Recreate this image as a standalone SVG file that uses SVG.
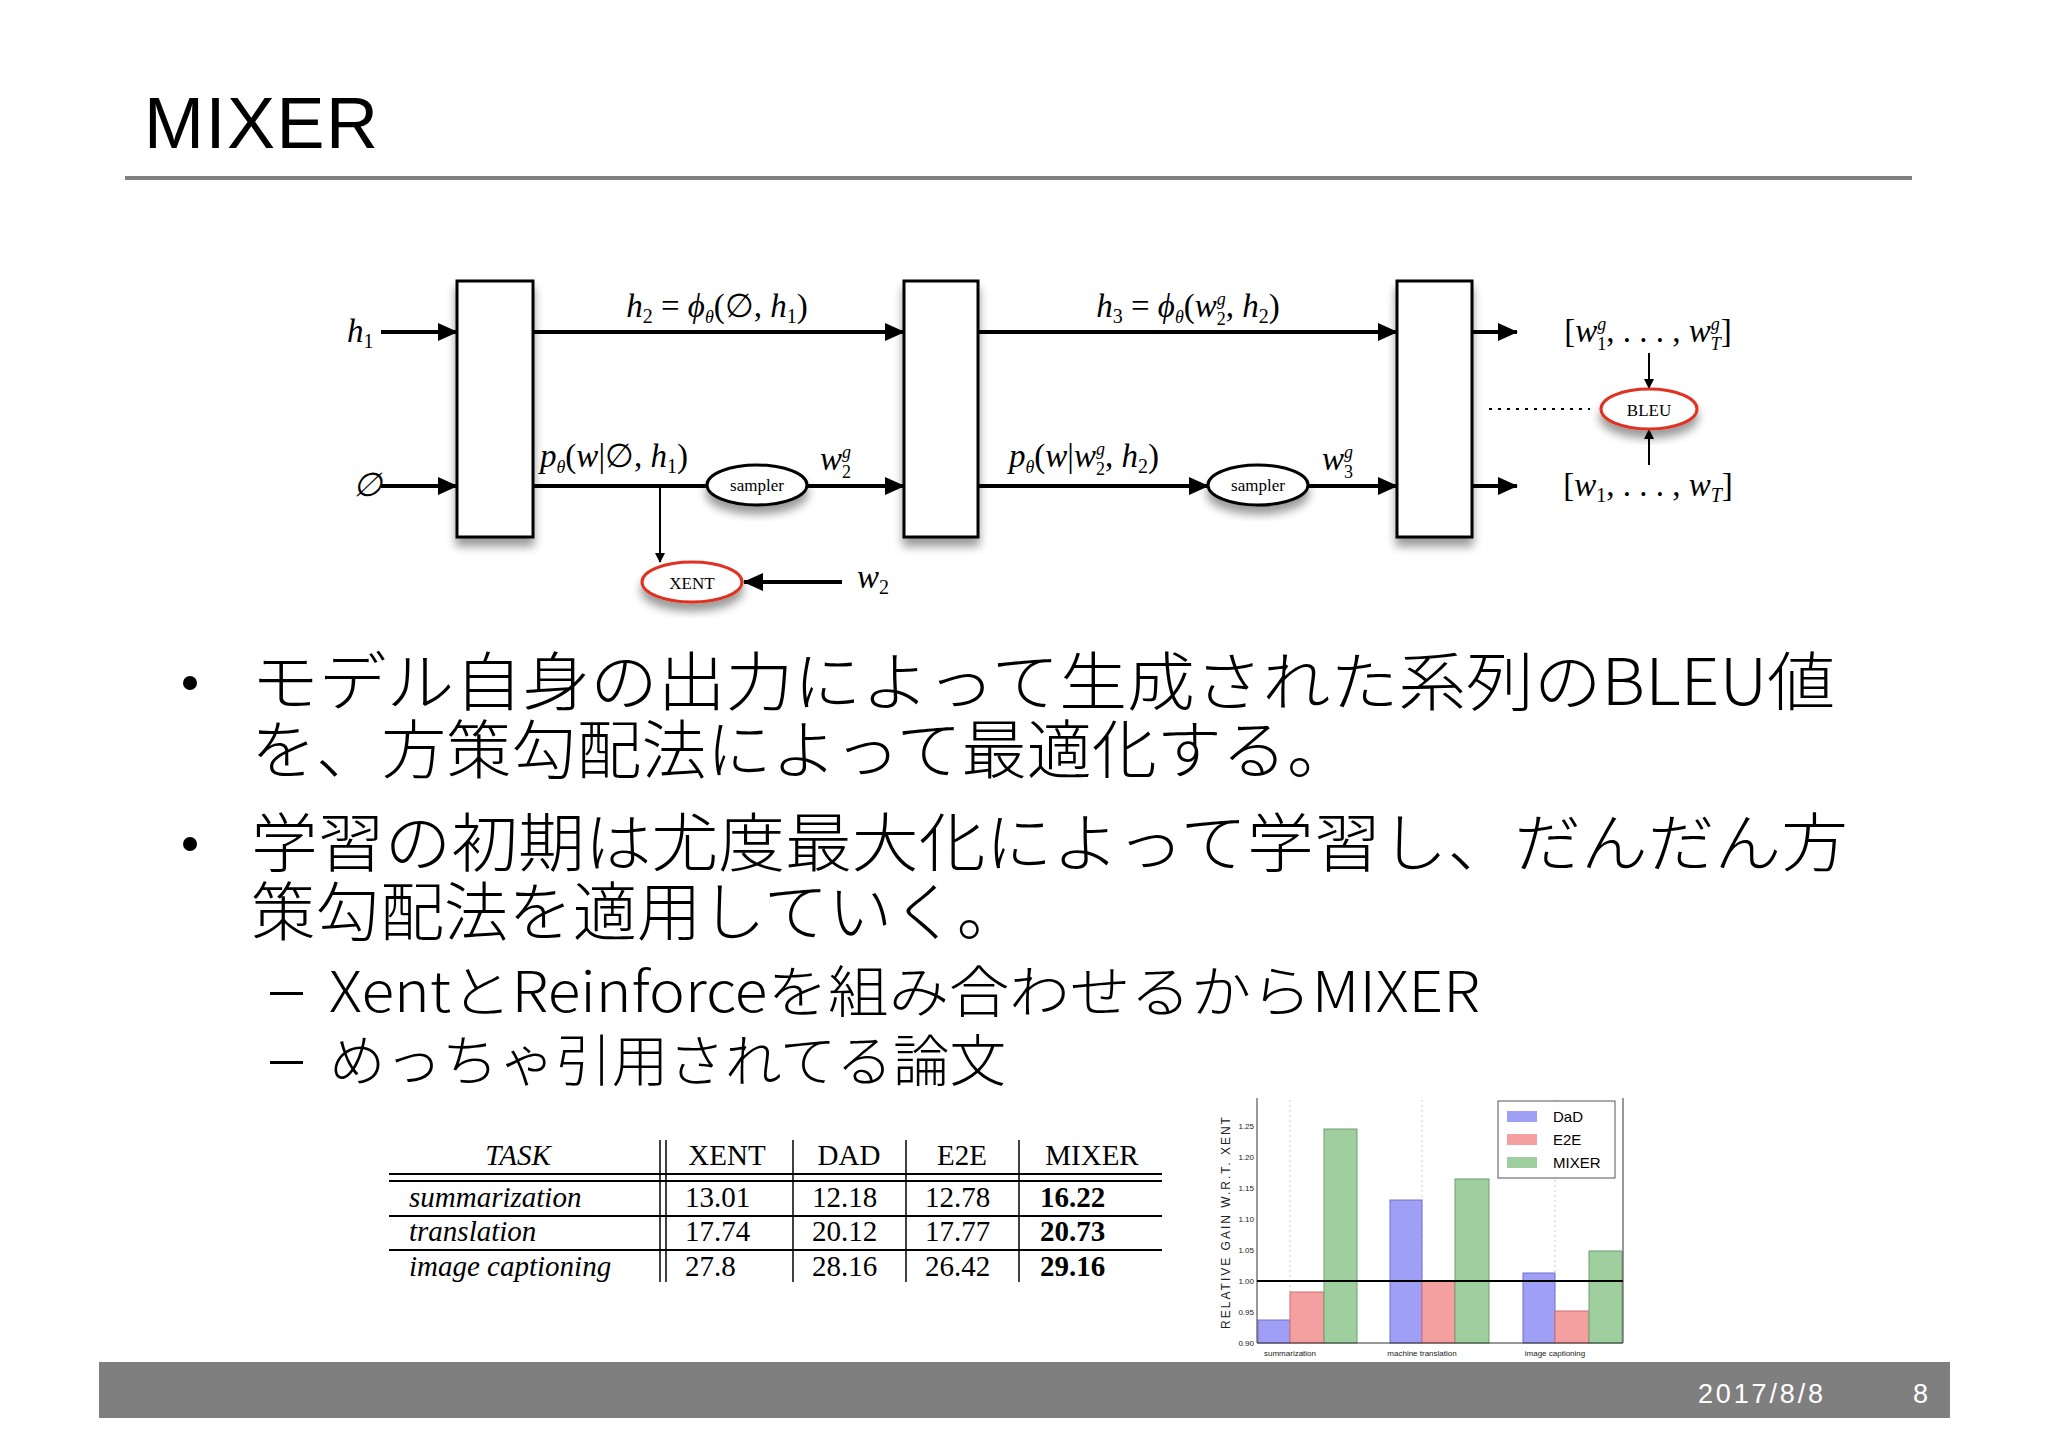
<svg xmlns="http://www.w3.org/2000/svg" width="2048" height="1448" viewBox="0 0 2048 1448">
<defs>
<marker id="ah" markerWidth="10" markerHeight="10" refX="9" refY="5" orient="auto" markerUnits="userSpaceOnUse"><path d="M0,0 L10,5 L0,10 Z" fill="#000"/></marker>
<marker id="ahb" markerWidth="20" markerHeight="18" refX="19" refY="9" orient="auto" markerUnits="userSpaceOnUse"><path d="M0,0 L20,9 L0,18 Z" fill="#000"/></marker>
<filter id="sh" x="-20%" y="-20%" width="140%" height="160%"><feGaussianBlur in="SourceAlpha" stdDeviation="5"/><feOffset dy="8"/><feComponentTransfer><feFuncA type="linear" slope="0.4"/></feComponentTransfer><feMerge><feMergeNode/><feMergeNode in="SourceGraphic"/></feMerge></filter>
</defs>
<style>
.jp{font-family:"Noto Sans CJK JP","Noto Sans",sans-serif;fill:#000;font-weight:300}
.m{font-family:"Liberation Serif",serif;font-style:italic;font-size:33px;fill:#000}
.box{fill:#fff;stroke:#000;stroke-width:3}
.ln{stroke:#000;stroke-width:4;fill:none}
.ell{fill:#fff;stroke:#000;stroke-width:3}
.red{fill:#fff;stroke:#e03020;stroke-width:3}
.sm{font-family:"Liberation Serif",serif;font-size:17px;text-anchor:middle}
.t{font-family:"Liberation Serif",serif;font-size:29px;fill:#000}
.ti{font-family:"Liberation Serif",serif;font-style:italic;font-size:29px;fill:#000}
.tl{stroke:#000;stroke-width:2}
.ax{font-family:"Liberation Sans",sans-serif;font-size:8px;fill:#222}
</style>
<rect width="2048" height="1448" fill="#fff"/>
<text x="144" y="148" font-family="Liberation Sans,sans-serif" font-size="72" fill="#000" textLength="234">MIXER</text>
<rect x="125" y="176" width="1787" height="4" fill="#808080"/>

<g id="connectors">
<line class="ln" x1="381" y1="332" x2="457" y2="332" marker-end="url(#ahb)"/>
<line class="ln" x1="381" y1="486" x2="457" y2="486" marker-end="url(#ahb)"/>
<line class="ln" x1="533" y1="332" x2="904" y2="332" marker-end="url(#ahb)"/>
<line class="ln" x1="978" y1="332" x2="1397" y2="332" marker-end="url(#ahb)"/>
<line class="ln" x1="533" y1="486" x2="707" y2="486"/>
<line class="ln" x1="807" y1="486" x2="904" y2="486" marker-end="url(#ahb)"/>
<line class="ln" x1="978" y1="486" x2="1208" y2="486" marker-end="url(#ahb)"/>
<line class="ln" x1="1308" y1="486" x2="1397" y2="486" marker-end="url(#ahb)"/>
<line class="ln" x1="1472" y1="332" x2="1517" y2="332" marker-end="url(#ahb)"/>
<line class="ln" x1="1472" y1="486" x2="1517" y2="486" marker-end="url(#ahb)"/>
<line x1="660" y1="486" x2="660" y2="562" stroke="#000" stroke-width="2" marker-end="url(#ah)"/>
<line class="ln" x1="842" y1="582" x2="744" y2="582" marker-end="url(#ahb)"/>
<line x1="1649" y1="353" x2="1649" y2="388" stroke="#000" stroke-width="2" marker-end="url(#ah)"/>
<line x1="1649" y1="465" x2="1649" y2="430" stroke="#000" stroke-width="2" marker-end="url(#ah)"/>
<line x1="1489" y1="409" x2="1590" y2="409" stroke="#000" stroke-width="2" stroke-dasharray="3,6"/>
</g>

<g id="box1"><rect class="box" x="457" y="281" width="76" height="256" filter="url(#sh)"/></g>
<g id="box2"><rect class="box" x="904" y="281" width="74" height="256" filter="url(#sh)"/></g>
<g id="box3"><rect class="box" x="1397" y="281" width="75" height="256" filter="url(#sh)"/></g>
<g id="sampler1"><ellipse class="ell" cx="757" cy="485" rx="50" ry="20" filter="url(#sh)"/><text class="sm" x="757" y="491">sampler</text></g>
<g id="sampler2"><ellipse class="ell" cx="1258" cy="485" rx="50" ry="20" filter="url(#sh)"/><text class="sm" x="1258" y="491">sampler</text></g>
<g id="xent"><ellipse class="red" cx="692" cy="582" rx="50" ry="20" filter="url(#sh)"/><text class="sm" x="692" y="589">XENT</text></g>
<g id="bleu"><ellipse class="red" cx="1649" cy="409" rx="48" ry="20" filter="url(#sh)"/><text class="sm" x="1649" y="416">BLEU</text></g>

<g id="labels">
<text class="m" x="347" y="342">h<tspan font-size="20" dy="6" font-style="normal">1</tspan></text>
<text class="m" x="353" y="496" font-style="normal">∅</text>
<text class="m" x="717" y="317" text-anchor="middle">h<tspan font-size="20" dy="6" font-style="normal">2</tspan><tspan dy="-6" font-style="normal"> = </tspan>ϕ<tspan font-size="18" dy="6">θ</tspan><tspan dy="-6" font-style="normal">(∅, </tspan>h<tspan font-size="20" dy="6" font-style="normal">1</tspan><tspan dy="-6" font-style="normal">)</tspan></text>
<text class="m" x="1188" y="317" text-anchor="middle">h<tspan font-size="20" dy="6" font-style="normal">3</tspan><tspan dy="-6" font-style="normal"> = </tspan>ϕ<tspan font-size="18" dy="6">θ</tspan><tspan dy="-6" font-style="normal">(</tspan>w<tspan font-size="18" dy="-12">g</tspan><tspan font-size="18" dx="-9" dy="20" font-style="normal">2</tspan><tspan dy="-8" font-style="normal">, </tspan>h<tspan font-size="20" dy="6" font-style="normal">2</tspan><tspan dy="-6" font-style="normal">)</tspan></text>
<text class="m" x="614" y="467" text-anchor="middle">p<tspan font-size="18" dy="6">θ</tspan><tspan dy="-6" font-style="normal">(</tspan>w<tspan font-style="normal">|∅, </tspan>h<tspan font-size="20" dy="6" font-style="normal">1</tspan><tspan dy="-6" font-style="normal">)</tspan></text>
<text class="m" x="1084" y="467" text-anchor="middle">p<tspan font-size="18" dy="6">θ</tspan><tspan dy="-6" font-style="normal">(</tspan>w<tspan font-style="normal">|</tspan>w<tspan font-size="18" dy="-12">g</tspan><tspan font-size="18" dx="-9" dy="20" font-style="normal">2</tspan><tspan dy="-8" font-style="normal">, </tspan>h<tspan font-size="20" dy="6" font-style="normal">2</tspan><tspan dy="-6" font-style="normal">)</tspan></text>
<text class="m" x="820" y="470">w<tspan font-size="18" dy="-12">g</tspan><tspan font-size="18" dx="-9" dy="20" font-style="normal">2</tspan></text>
<text class="m" x="1322" y="470">w<tspan font-size="18" dy="-12">g</tspan><tspan font-size="18" dx="-9" dy="20" font-style="normal">3</tspan></text>
<text class="m" x="857" y="588">w<tspan font-size="20" dy="6" font-style="normal">2</tspan></text>
<text class="m" x="1648" y="342" text-anchor="middle"><tspan font-style="normal">[</tspan>w<tspan font-size="18" dy="-12">g</tspan><tspan font-size="18" dx="-9" dy="20" font-style="normal">1</tspan><tspan dy="-8" font-style="normal">, . . . , </tspan>w<tspan font-size="18" dy="-12">g</tspan><tspan font-size="18" dx="-9" dy="20">T</tspan><tspan dy="-8" font-style="normal">]</tspan></text>
<text class="m" x="1648" y="496" text-anchor="middle"><tspan font-style="normal">[</tspan>w<tspan font-size="20" dy="6" font-style="normal">1</tspan><tspan dy="-6" font-style="normal">, . . . , </tspan>w<tspan font-size="20" dy="6">T</tspan><tspan dy="-6" font-style="normal">]</tspan></text>
</g>

<g id="bullets" class="jp">
<circle cx="190" cy="683" r="7" fill="#000"/>
<text x="251" y="705" font-size="64" textLength="1584" lengthAdjust="spacingAndGlyphs">モデル自身の出力によって生成された系列のBLEU値</text>
<text x="251" y="773" font-size="64" textLength="1101" lengthAdjust="spacingAndGlyphs">を、方策勾配法によって最適化する。</text>
<circle cx="190" cy="844" r="7" fill="#000"/>
<text x="251" y="866" font-size="64" textLength="1597" lengthAdjust="spacingAndGlyphs">学習の初期は尤度最大化によって学習し、だんだん方</text>
<text x="251" y="935" font-size="64" textLength="770" lengthAdjust="spacingAndGlyphs">策勾配法を適用していく。</text>
<rect x="270" y="992" width="33" height="3" fill="#000"/>
<text x="329" y="1012" font-size="56" textLength="1151" lengthAdjust="spacingAndGlyphs">XentとReinforceを組み合わせるからMIXER</text>
<rect x="270" y="1061" width="33" height="3" fill="#000"/>
<text x="329" y="1081" font-size="56" textLength="677" lengthAdjust="spacingAndGlyphs">めっちゃ引用されてる論文</text>
</g>

<g id="table">
<text class="ti" x="518" y="1165" text-anchor="middle">TASK</text>
<text class="t" x="727" y="1165" text-anchor="middle">XENT</text>
<text class="t" x="849" y="1165" text-anchor="middle">DAD</text>
<text class="t" x="962" y="1165" text-anchor="middle">E2E</text>
<text class="t" x="1092" y="1165" text-anchor="middle">MIXER</text>
<line class="tl" x1="389" y1="1174" x2="1162" y2="1174"/>
<line class="tl" x1="389" y1="1181" x2="1162" y2="1181"/>
<line class="tl" x1="389" y1="1216" x2="1162" y2="1216"/>
<line class="tl" x1="389" y1="1250" x2="1162" y2="1250"/>
<line x1="660" y1="1140" x2="660" y2="1282" stroke="#000" stroke-width="1.5"/>
<line x1="666" y1="1140" x2="666" y2="1282" stroke="#000" stroke-width="1.5"/>
<line x1="793" y1="1140" x2="793" y2="1282" stroke="#000" stroke-width="1.5"/>
<line x1="906" y1="1140" x2="906" y2="1282" stroke="#000" stroke-width="1.5"/>
<line x1="1019" y1="1140" x2="1019" y2="1282" stroke="#000" stroke-width="1.5"/>
<text class="ti" x="409" y="1207">summarization</text>
<text class="ti" x="409" y="1241">translation</text>
<text class="ti" x="409" y="1276">image captioning</text>
<g class="t"><text x="685" y="1207">13.01</text><text x="812" y="1207">12.18</text><text x="925" y="1207">12.78</text><text x="1040" y="1207" font-weight="bold">16.22</text>
<text x="685" y="1241">17.74</text><text x="812" y="1241">20.12</text><text x="925" y="1241">17.77</text><text x="1040" y="1241" font-weight="bold">20.73</text>
<text x="685" y="1276">27.8</text><text x="812" y="1276">28.16</text><text x="925" y="1276">26.42</text><text x="1040" y="1276" font-weight="bold">29.16</text></g>
</g>

<g id="chart">
<g stroke="#ccc" stroke-width="1" stroke-dasharray="2,3">
<line x1="1290" y1="1100" x2="1290" y2="1343"/><line x1="1422" y1="1100" x2="1422" y2="1343"/><line x1="1555" y1="1100" x2="1555" y2="1343"/>
</g>
<g stroke-width="1">
<rect x="1258" y="1320" width="32" height="23" fill="#9f9ff5" stroke="#7070d0"/>
<rect x="1290" y="1292" width="34" height="51" fill="#f5a0a0" stroke="#d07070"/>
<rect x="1324" y="1129" width="33" height="214" fill="#9fcf9f" stroke="#70a070"/>
<rect x="1390" y="1200" width="32" height="143" fill="#9f9ff5" stroke="#7070d0"/>
<rect x="1422" y="1281" width="33" height="62" fill="#f5a0a0" stroke="#d07070"/>
<rect x="1455" y="1179" width="34" height="164" fill="#9fcf9f" stroke="#70a070"/>
<rect x="1523" y="1273" width="32" height="70" fill="#9f9ff5" stroke="#7070d0"/>
<rect x="1555" y="1311" width="34" height="32" fill="#f5a0a0" stroke="#d07070"/>
<rect x="1589" y="1251" width="33" height="92" fill="#9fcf9f" stroke="#70a070"/>
</g>
<line x1="1257" y1="1098" x2="1257" y2="1343" stroke="#333" stroke-width="1"/>
<line x1="1623" y1="1098" x2="1623" y2="1343" stroke="#333" stroke-width="1"/>
<line x1="1257" y1="1343" x2="1623" y2="1343" stroke="#333" stroke-width="1"/>
<line x1="1257" y1="1281" x2="1623" y2="1281" stroke="#000" stroke-width="2"/>
<g class="ax" text-anchor="end">
<text x="1254" y="1129">1.25</text><text x="1254" y="1160">1.20</text><text x="1254" y="1191">1.15</text><text x="1254" y="1222">1.10</text><text x="1254" y="1253">1.05</text><text x="1254" y="1284">1.00</text><text x="1254" y="1315">0.95</text><text x="1254" y="1346">0.90</text>
</g>
<g class="ax" text-anchor="middle">
<text x="1290" y="1356">summarization</text><text x="1422" y="1356">machine translation</text><text x="1555" y="1356">image captioning</text>
</g>
<text transform="translate(1230,1222) rotate(-90)" text-anchor="middle" font-family="Liberation Sans,sans-serif" font-size="12" letter-spacing="2" fill="#222">RELATIVE  GAIN  W.R.T.  XENT</text>
<rect x="1498" y="1101" width="117" height="77" fill="#fff" stroke="#555" stroke-width="1"/>
<rect x="1507" y="1111" width="30" height="11" fill="#9f9ff5"/><text x="1553" y="1122" font-family="Liberation Sans,sans-serif" font-size="15">DaD</text>
<rect x="1507" y="1134" width="30" height="11" fill="#f5a0a0"/><text x="1553" y="1145" font-family="Liberation Sans,sans-serif" font-size="15">E2E</text>
<rect x="1507" y="1157" width="30" height="11" fill="#9fcf9f"/><text x="1553" y="1168" font-family="Liberation Sans,sans-serif" font-size="15">MIXER</text>
</g>

<rect x="99" y="1362" width="1851" height="56" fill="#7f7f7f"/>
<text x="1698" y="1403" font-family="Liberation Sans,sans-serif" font-size="27" fill="#fff" textLength="125">2017/8/8</text>
<text x="1913" y="1403" font-family="Liberation Sans,sans-serif" font-size="27" fill="#fff">8</text>
</svg>
